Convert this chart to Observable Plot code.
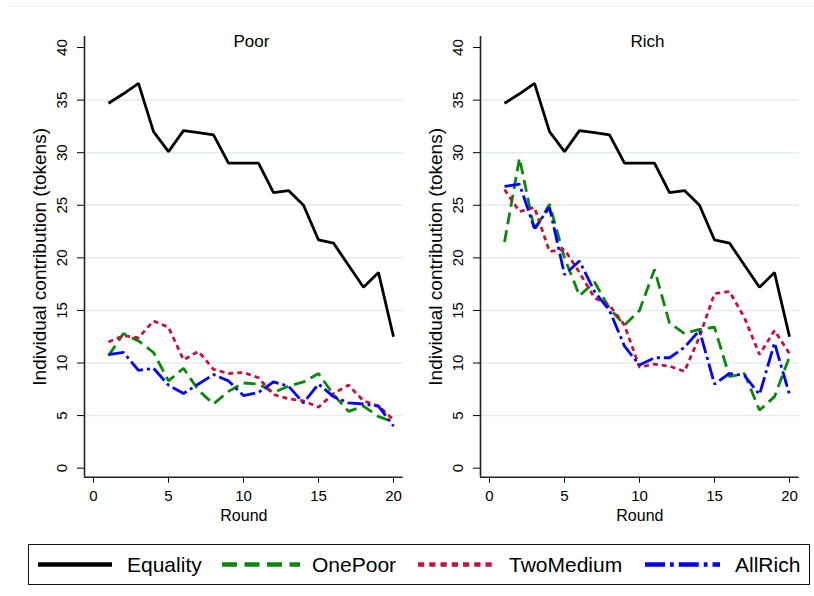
<!DOCTYPE html>
<html>
<head>
<meta charset="utf-8">
<script src="https://cdn.jsdelivr.net/npm/d3@7"></script>
<script src="https://cdn.jsdelivr.net/npm/@observablehq/plot@0.6"></script>
<style>
  body { margin: 0; background: #fff; font-family: "Liberation Sans", Arial, sans-serif; }
  #wrap { position: relative; width: 814px; height: 596px; overflow: hidden; background: #fff; }
  .topline { position: absolute; left: 10px; top: 6px; width: 804px; border-top: 1px solid #e6ecef; }
  .legend { position: absolute; left: 28px; top: 544px; width: 782px; height: 41px; box-sizing: border-box; border: 1px solid #111; }
  .lg-label { position: absolute; top: 0; height: 39px; line-height: 39px; font-size: 21px; color: #000; white-space: nowrap; }
  [aria-label^="y-axis"] line, [aria-label^="x-axis"] line { stroke-width: 1.4px; }
</style>
</head>
<body>
<div id="wrap"><div class="topline"></div></div>
<script>
// ---------------- data ----------------
const rounds = [1,2,3,4,5,6,7,8,9,10,11,12,13,14,15,16,17,18,19,20];
const seriesNames = ["Equality", "OnePoor", "TwoMedium", "AllRich"];
const panelTitles = ["Poor", "Rich"];

const equality      = [34.7, 35.6, 36.6, 32.0, 30.1, 32.1, 31.9, 31.7, 29.0, 29.0, 29.0, 26.2, 26.4, 25.0, 21.7, 21.4, 19.3, 17.2, 18.6, 12.5];

const poorOnePoor   = [10.7, 12.8, 12.1, 11.0, 8.3, 9.5, 7.4, 6.1, 7.3, 8.1, 8.0, 7.2, 7.8, 8.2, 9.0, 7.0, 5.4, 5.9, 4.9, 4.4];
const poorTwoMedium = [12.0, 12.6, 12.4, 14.0, 13.4, 10.3, 11.1, 9.4, 9.0, 9.1, 8.6, 7.0, 6.6, 6.4, 5.8, 7.1, 7.9, 6.4, 5.9, 4.6];
const poorAllRich   = [10.8, 11.0, 9.3, 9.5, 7.9, 7.1, 8.0, 8.9, 8.3, 6.9, 7.2, 8.2, 7.8, 6.2, 8.0, 6.8, 6.2, 6.1, 5.9, 4.0];

const richOnePoor   = [21.5, 29.5, 22.6, 25.1, 20.0, 16.4, 17.7, 15.2, 13.6, 15.0, 18.9, 13.8, 12.8, 13.2, 13.4, 8.7, 9.0, 5.5, 6.8, 10.6];
const richTwoMedium = [26.5, 24.4, 24.8, 20.6, 20.8, 18.6, 16.2, 15.5, 13.6, 9.6, 9.9, 9.7, 9.2, 12.5, 16.6, 16.8, 14.3, 10.8, 13.1, 10.9];
const richAllRich   = [26.8, 27.0, 22.8, 24.8, 18.4, 19.7, 16.8, 15.0, 11.6, 9.8, 10.5, 10.5, 11.5, 13.1, 8.0, 9.0, 8.8, 7.0, 11.9, 7.0];

const xTicks = [0, 5, 10, 15, 20];
const yTicks = [0, 5, 10, 15, 20, 25, 30, 35, 40];
const gridVals = [5, 10, 15, 20, 25, 30, 35];

const xLabel = "Round";
const yLabel = "Individual contribution (tokens)";

// ---------------- styling ----------------
const colors  = {Equality: "#000000", OnePoor: "#0c870c", TwoMedium: "#c8103c", AllRich: "#0000ff"};
const dashes  = {Equality: null, OnePoor: "12,6", TwoMedium: "5,4", AllRich: "16,4,3,4"};
const xDomain = [-0.6, 20.65];
const yDomain = [-0.86, 41.05];

function buildRows(seriesArrays) {
  const rows = [];
  seriesNames.forEach((name, i) => {
    seriesArrays[i].forEach((v, j) => rows.push({series: name, round: rounds[j], value: v}));
  });
  return rows;
}

function panel(title, seriesArrays, left) {
  const rows = buildRows(seriesArrays);
  const lineMarks = seriesNames.map(name => Plot.line(rows.filter(d => d.series === name), {
    x: "round", y: "value",
    stroke: colors[name], strokeWidth: 2.8,
    strokeDasharray: dashes[name] || undefined,
    strokeLinejoin: "miter", strokeLinecap: "butt"
  }));
  const svg = Plot.plot({
    width: 407, height: 530,
    marginLeft: 84, marginRight: 4.25, marginTop: 36, marginBottom: 53.3,
    style: {background: "transparent", fontFamily: "Liberation Sans, Arial, sans-serif", fontSize: "15px", color: "#000", overflow: "visible"},
    x: {domain: xDomain, ticks: xTicks, tickSize: 6, tickPadding: 7, label: null, tickFormat: d => String(d)},
    y: {domain: yDomain, ticks: yTicks, tickSize: 7, tickPadding: 3, label: null, tickFormat: () => ""},
    marks: [
      Plot.ruleY(gridVals, {stroke: "#e3ecef", strokeWidth: 1.5}),
      Plot.ruleX([xDomain[0]], {stroke: "#222", strokeWidth: 1.6}),
      Plot.ruleY([yDomain[0]], {stroke: "#222", strokeWidth: 1.6}),
      ...lineMarks,
      Plot.text(yTicks, {x: xDomain[0], y: d => d, text: d => String(d), dx: -22, rotate: -90,
                         textAnchor: "middle", lineAnchor: "middle", fontSize: 15, fill: "#000"}),
      Plot.text([title], {frameAnchor: "top", text: d => d, dx: 7.5, dy: 5, lineAnchor: "middle", fontSize: 17, fill: "#000"}),
      Plot.text([xLabel], {frameAnchor: "bottom", text: d => d, dy: 38.3, lineAnchor: "middle", fontSize: 16, fill: "#000"}),
      Plot.text([yLabel], {frameAnchor: "left", text: d => d, dx: -45, rotate: -90, textAnchor: "middle", lineAnchor: "middle", fontSize: 19, fill: "#000"})
    ]
  });
  svg.style.position = "absolute";
  svg.style.left = left + "px";
  svg.style.top = "0px";
  return svg;
}

const wrap = document.getElementById("wrap");
wrap.appendChild(panel(panelTitles[0], [equality, poorOnePoor, poorTwoMedium, poorAllRich], 0));
wrap.appendChild(panel(panelTitles[1], [equality, richOnePoor, richTwoMedium, richAllRich], 396));

// ---------------- legend ----------------
const legendPos = [
  {sample: [38, 112], label: 127},
  {sample: [222, 300], label: 312},
  {sample: [418, 494], label: 509},
  {sample: [645, 720], label: 735}
];
const legend = document.createElement("div");
legend.className = "legend";
wrap.appendChild(legend);
seriesNames.forEach((name, i) => {
  const p = legendPos[i];
  const w = p.sample[1] - p.sample[0];
  const s = d3.create("svg").attr("width", w).attr("height", 39)
    .style("position", "absolute").style("left", (p.sample[0] - 29) + "px").style("top", "0px");
  s.append("line").attr("x1", 0).attr("x2", w).attr("y1", 19.5).attr("y2", 19.5)
    .attr("stroke", colors[name]).attr("stroke-width", 4.5)
    .attr("stroke-dasharray", dashes[name] ? dashes[name].split(",").map(v => +v * 1.25).join(",") : null);
  legend.appendChild(s.node());
  const lab = document.createElement("div");
  lab.className = "lg-label";
  lab.style.left = (p.label - 29) + "px";
  lab.textContent = name;
  legend.appendChild(lab);
});
</script>
</body>
</html>
